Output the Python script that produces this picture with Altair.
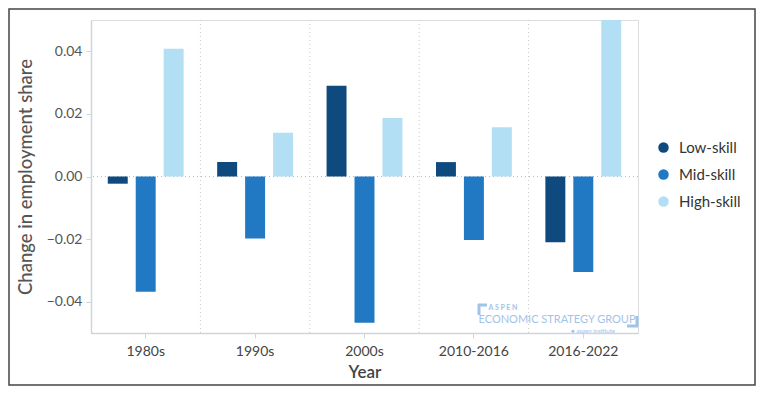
import altair as alt
import pandas as pd

categories = ["1980s", "1990s", "2000s", "2010-2016", "2016-2022"]
series = ["Low-skill", "Mid-skill", "High-skill"]
low_skill = [-0.0023, 0.0046, 0.0290, 0.0046, -0.0210]
mid_skill = [-0.0368, -0.0198, -0.0467, -0.0203, -0.0305]
high_skill = [0.0408, 0.0140, 0.0187, 0.0157, 0.0500]
colors = ["#0f4a7e", "#2079c2", "#b3dff4"]
y_ticks = [-0.04, -0.02, 0.0, 0.02, 0.04]

rows = []
for i, c in enumerate(categories):
    for s, vals in zip(series, [low_skill, mid_skill, high_skill]):
        rows.append({"year": c, "skill": s, "value": vals[i]})
df = pd.DataFrame(rows)

FONT = "Lato"
xscale = alt.Scale(domain=categories, paddingInner=0, paddingOuter=0)
yscale = alt.Scale(domain=[-0.05, 0.05], nice=False)

x_axis = alt.Axis(title="Year", labelAngle=0, grid=False, tickSize=5,
                  labelFontSize=14, labelColor="#444", titleFontSize=17,
                  titleFontWeight=600, titleColor="#444", titlePadding=6,
                  domainColor="#cdd6da", domainWidth=1.5, tickColor="#cdd6da",
                  labelPadding=6)
y_axis = alt.Axis(title="Change in employment share", values=y_ticks, format=".2f",
                  grid=False, tickSize=5, labelFontSize=14, labelColor="#555",
                  titleFontSize=18.5, titleFontWeight=500, titleColor="#555",
                  titlePadding=11, domainColor="#cdd6da", domainWidth=1.5,
                  tickColor="#cdd6da", labelPadding=4)

bars = alt.Chart(df).mark_bar().encode(
    x=alt.X("year:N", scale=xscale, sort=categories, axis=x_axis),
    xOffset=alt.XOffset("skill:N", sort=series,
                        scale=alt.Scale(domain=series, paddingInner=0.286, paddingOuter=0.6)),
    y=alt.Y("value:Q", scale=yscale, axis=y_axis),
    color=alt.Color("skill:N", sort=series,
                    scale=alt.Scale(domain=series, range=colors),
                    legend=alt.Legend(title=None, orient="none", legendX=565, legendY=120,
                                      symbolType="circle", symbolSize=110,
                                      labelFontSize=15, labelColor="#333",
                                      rowPadding=11, labelOffset=8, symbolStrokeWidth=0)),
)

bounds_df = pd.DataFrame({"year": categories[1:]})
vgrid = alt.Chart(bounds_df).mark_rule(color="#c8c8c8", strokeDash=[1, 3], strokeWidth=1).encode(
    x=alt.X("year:N", scale=xscale, sort=categories, bandPosition=0, axis=x_axis)
)

zero_df = pd.DataFrame({"value": [0.0]})
zero = alt.Chart(zero_df).mark_rule(color="#bbbbbb", strokeDash=[1, 3], strokeWidth=1).encode(
    y=alt.Y("value:Q", scale=yscale, axis=y_axis)
)

one = pd.DataFrame({"a": [0]})
frame = alt.Chart(one).mark_rect(fill="transparent", stroke="#444", strokeWidth=1.5).encode(
    x=alt.value(-82), x2=alt.value(664), y=alt.value(-11), y2=alt.value(365)
)

wm_color = "#9fc4ea"
wm1 = alt.Chart(one).mark_text(text="A S P E N", fontSize=7, color=wm_color, font=FONT,
                               fontWeight="bold").encode(x=alt.value(412), y=alt.value(288))
wm2 = alt.Chart(one).mark_text(text="ECONOMIC STRATEGY GROUP", fontSize=11, color=wm_color,
                               font=FONT).encode(x=alt.value(466), y=alt.value(300))
wm3 = alt.Chart(one).mark_text(text="● aspen institute", fontSize=6, color=wm_color,
                               font=FONT).encode(x=alt.value(502), y=alt.value(311))
br1 = alt.Chart(one).mark_rule(color=wm_color, strokeWidth=3).encode(
    x=alt.value(387), x2=alt.value(396), y=alt.value(285))
br2 = alt.Chart(one).mark_rule(color=wm_color, strokeWidth=3).encode(
    x=alt.value(388), y=alt.value(284), y2=alt.value(295))
br3 = alt.Chart(one).mark_rule(color=wm_color, strokeWidth=3).encode(
    x=alt.value(536), x2=alt.value(547), y=alt.value(306))
br4 = alt.Chart(one).mark_rule(color=wm_color, strokeWidth=3).encode(
    x=alt.value(546), y=alt.value(296), y2=alt.value(307))

chart = alt.layer(vgrid, zero, bars, wm1, wm2, wm3, br1, br2, br3, br4, frame).properties(
    width=547, height=313,
    padding={"left": 83, "top": 12, "right": 118, "bottom": 54},
    autosize=alt.AutoSizeParams(type="none"),
).configure_view(strokeWidth=0).configure(font=FONT)

chart.save("out.html", embed_options={"renderer": "svg", "actions": False})
